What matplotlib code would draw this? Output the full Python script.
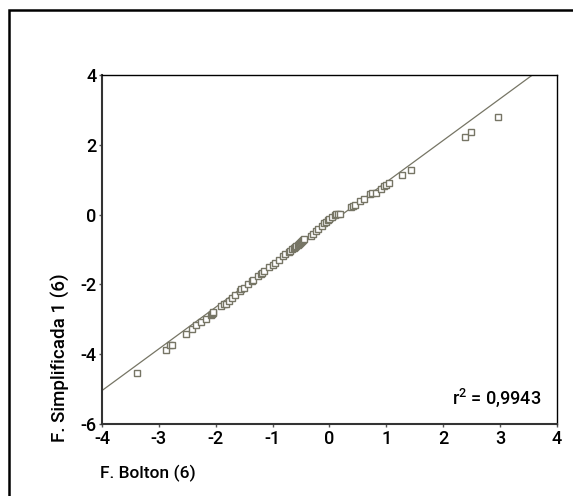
import matplotlib
matplotlib.use("Agg")
import matplotlib.pyplot as plt
from matplotlib.patches import Rectangle

# values
bolton = [-3.38, -2.87, -2.80, -2.77, -2.53, -2.41, -2.34, -2.26, -2.17, -2.09,
          -2.07, -2.05, -2.04, -1.90, -1.86, -1.82, -1.77, -1.71, -1.66, -1.58,
          -1.55, -1.51, -1.44, -1.37, -1.35, -1.25, -1.21, -1.18, -1.16, -1.06,
          -0.99, -0.95, -0.88, -0.82, -0.78, -0.72, -0.69, -0.66, -0.63, -0.61,
          -0.58, -0.56, -0.54, -0.52, -0.50, -0.48, -0.46, -0.44, -0.33, -0.29,
          -0.23, -0.21, -0.14, -0.09, -0.06, -0.03, 0.00, 0.05, 0.09, 0.12,
          0.15, 0.19, 0.38, 0.41, 0.45, 0.54, 0.61, 0.72, 0.75, 0.81,
          0.90, 0.96, 1.00, 1.04, 1.27, 1.44, 2.38, 2.48, 2.97]
simplificada = [-4.53, -3.87, -3.74, -3.73, -3.41, -3.27, -3.17, -3.08, -2.98, -2.87,
                -2.84, -2.82, -2.79, -2.61, -2.57, -2.55, -2.48, -2.38, -2.31, -2.19,
                -2.14, -2.09, -2.00, -1.90, -1.88, -1.75, -1.70, -1.66, -1.63, -1.51,
                -1.43, -1.38, -1.29, -1.18, -1.13, -1.08, -1.05, -1.00, -0.95, -0.93,
                -0.89, -0.86, -0.83, -0.80, -0.78, -0.75, -0.72, -0.69, -0.60, -0.55,
                -0.46, -0.42, -0.33, -0.24, -0.20, -0.16, -0.12, -0.06, -0.01, 0.01,
                0.02, 0.03, 0.21, 0.25, 0.27, 0.38, 0.46, 0.58, 0.61, 0.63,
                0.74, 0.82, 0.85, 0.89, 1.12, 1.28, 2.21, 2.36, 2.78]
fit_slope = 1.194
fit_intercept = -0.264
r2_text = "r$^2$ = 0,9943"
x_ticks = [-4, -3, -2, -1, 0, 1, 2, 3, 4]
y_ticks = [-6, -4, -2, 0, 2, 4]

plt.rcParams['font.family'] = ['Roboto', 'DejaVu Sans']
plt.rcParams['font.weight'] = 'medium'
plt.rcParams['axes.unicode_minus'] = False
plt.rcParams['mathtext.fontset'] = 'custom'
plt.rcParams['mathtext.rm'] = 'Roboto:medium'
col = '#767565'

fig = plt.figure(figsize=(5.73, 4.96), dpi=100)
ax = fig.add_axes([0.178, 0.145, 0.794, 0.704])

ax.axline((0, fit_intercept), slope=fit_slope, color=col, lw=0.9, zorder=2)
ax.plot(bolton, simplificada, ls='none', marker='s', ms=4.0, mfc='white',
        mec=col, mew=1.0, zorder=3)

ax.set_xlim(-4, 4)
ax.set_ylim(-6, 4)
ax.set_xticks(x_ticks)
ax.set_yticks(y_ticks)
ax.tick_params(direction='out', length=2.5, width=1, colors='#555555',
               labelsize=13, labelcolor='black', pad=1.5)

for s in ['left', 'bottom']:
    ax.spines[s].set_linewidth(1.5)
    ax.spines[s].set_color('#333333')
for s in ['top', 'right']:
    ax.spines[s].set_linewidth(1.0)
    ax.spines[s].set_color('black')

ax.text(0.965, 0.075, r2_text, transform=ax.transAxes, ha='right', va='center',
        fontsize=13)

fig.text(100 / 573, 1 - 473 / 496, "F. Bolton (6)", ha='left', va='center', fontsize=12.5)
fig.text(60 / 573, 1 - 442 / 496, "F. Simplificada 1 (6)", ha='center', va='bottom',
         rotation=90, fontsize=13.5)

# outer frame, cut by the image edge on the right and bottom
fig.patches.append(Rectangle((9 / 573, -0.1), 1.2, 1.1 - 10 / 496, transform=fig.transFigure,
                             fill=False, edgecolor='black', lw=1.8))

fig.savefig('out.png', dpi=100)
